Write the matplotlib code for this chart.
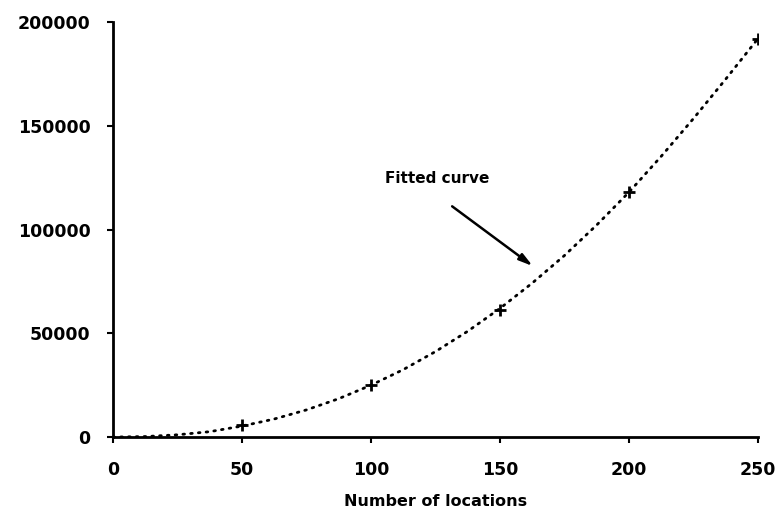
import matplotlib.pyplot as plt

# observed points
locations = [50, 100, 150, 200, 250]
values = [5800, 25100, 61300, 118300, 191800]

# fitted curve
curve_x = [0, 12.5, 25, 37.5, 50, 62.5, 75, 87.5, 100, 112.5, 125, 137.5,
           150, 162.5, 175, 187.5, 200, 212.5, 225, 237.5, 250]
curve_y = [0, 250, 1100, 2600, 5300, 8700, 13100, 18500, 25000, 32500, 41200, 51000,
           62000, 74200, 87500, 102200, 118000, 135300, 153500, 172500, 192000]

x_ticks = [0, 50, 100, 150, 200, 250]
y_ticks = [0, 50000, 100000, 150000, 200000]

plt.rcParams['font.family'] = 'DejaVu Sans'
plt.rcParams['font.weight'] = 'bold'

fig = plt.figure(figsize=(7.79, 5.13), dpi=100)
ax = fig.add_axes([0.145, 0.148, 0.828, 0.809])

ax.plot(curve_x, curve_y, color='black', linewidth=2.0,
        linestyle=(0, (0.6, 2.2)), dash_capstyle='round')
ax.plot(locations, values, linestyle='none', marker='+', color='black',
        markersize=8, markeredgewidth=2)

ax.annotate('Fitted curve', xy=(163.6, 81600), xytext=(105.4, 124600),
            fontsize=11, fontweight='bold', va='center', ha='left')
ax.annotate('', xy=(163.6, 81600), xytext=(130.6, 112000),
            arrowprops=dict(arrowstyle='-|>,head_length=0.8,head_width=0.22',
                            color='black', lw=1.8))

ax.set_xlim(0, 250)
ax.set_ylim(0, 200000)
ax.set_xticks(x_ticks)
ax.set_yticks(y_ticks)
ax.tick_params(direction='out', length=4, width=1.5, labelsize=12.5)
ax.tick_params(axis='x', pad=13)
ax.tick_params(axis='y', pad=12)
for s in ['top', 'right']:
    ax.spines[s].set_visible(False)
for s in ['left', 'bottom']:
    ax.spines[s].set_linewidth(2)

ax.set_xlabel('Number of locations', fontsize=11.5, fontweight='bold', labelpad=11)

fig.savefig('out.png', dpi=100)
